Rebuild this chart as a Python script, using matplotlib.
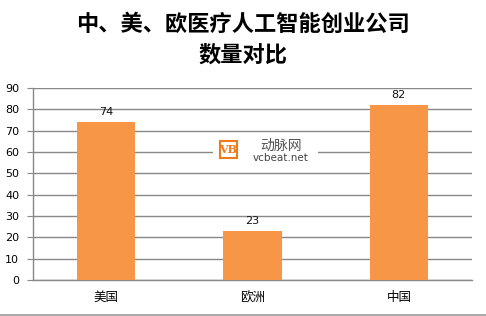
import matplotlib.pyplot as plt
from matplotlib.patches import Rectangle

plt.rcParams['font.family'] = ['Noto Sans CJK SC', 'DejaVu Sans']

# 数据
regions = ["美国", "欧洲", "中国"]
counts = [74, 23, 82]
yticks = [0, 10, 20, 30, 40, 50, 60, 70, 80, 90]

fig = plt.figure(figsize=(4.86, 3.16), dpi=100)
ax = fig.add_axes([0.0679, 0.1139, 0.9033, 0.6076])

bars = ax.bar(range(len(regions)), counts, width=0.40, color="#F79646", zorder=3)
for b, v in zip(bars, counts):
    ax.text(b.get_x() + b.get_width() / 2, v + 2.5, str(v), ha="center", va="bottom",
            fontsize=8, family="DejaVu Sans", color="#111111", zorder=4)

ax.set_xlim(-0.5, 2.5)
ax.set_ylim(0, 90)
ax.set_yticks(yticks)
ax.set_yticklabels([str(t) for t in yticks], fontsize=8, family="DejaVu Sans")
ax.set_xticks(range(len(regions)))
ax.set_xticklabels(regions, fontsize=9)
ax.tick_params(axis="x", length=0, pad=8)
ax.tick_params(axis="y", length=4, color="#888888", pad=6)
ax.grid(axis="y", color="#888888", linewidth=1, zorder=0)
for s in ["top", "right"]:
    ax.spines[s].set_visible(False)
ax.spines["left"].set_color("#888888")
ax.spines["bottom"].set_color("#888888")
ax.spines["left"].set_linewidth(1)
ax.spines["bottom"].set_linewidth(1)

# 标题
fig.text(0.5, 1 - 24 / 316, "中、美、欧医疗人工智能创业公司", ha="center", va="center",
         fontsize=16, fontweight="bold")
fig.text(0.5, 1 - 55 / 316, "数量对比", ha="center", va="center",
         fontsize=16, fontweight="bold")

# 水印
fig.patches.append(Rectangle((213 / 486, 1 - 167 / 316), 105 / 486, 30 / 316,
                             transform=fig.transFigure, facecolor="white",
                             edgecolor="none", zorder=5))
fig.patches.append(Rectangle((220 / 486, 1 - 158 / 316), 17 / 486, 17 / 316,
                             transform=fig.transFigure, facecolor="white",
                             edgecolor="#F07A1A", linewidth=1.5, zorder=6))
fig.text(228.5 / 486, 1 - 149.5 / 316, "VB", ha="center", va="center", fontsize=8,
         fontweight="bold", color="#F07A1A", family="DejaVu Serif", zorder=7)
fig.text(281 / 486, 1 - 146 / 316, "动脉网", ha="center", va="center", fontsize=10,
         color="#555555", zorder=7)
fig.text(281 / 486, 1 - 158 / 316, "vcbeat.net", ha="center", va="center", fontsize=7.5,
         color="#444444", family="DejaVu Sans", zorder=7)

# 底部边线
fig.add_artist(plt.Line2D([0, 1], [1.5 / 316, 1.5 / 316], transform=fig.transFigure,
                          color="#999999", linewidth=1.2))

fig.savefig("out.png", dpi=100)
